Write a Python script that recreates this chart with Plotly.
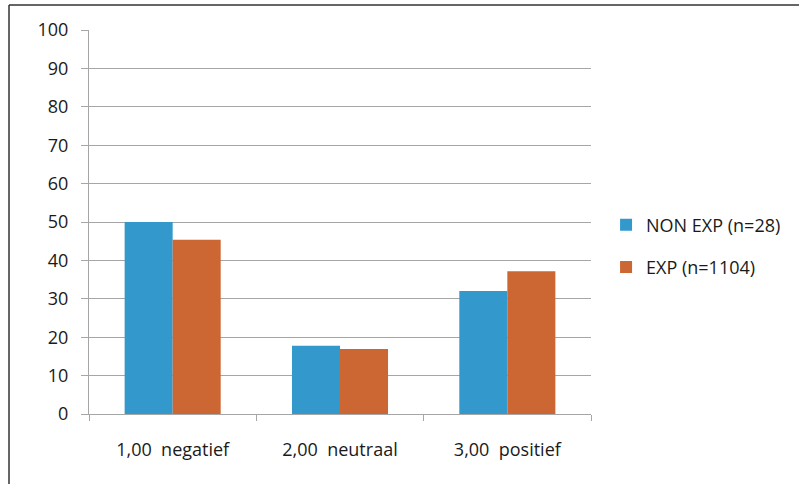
import plotly.graph_objects as go

# Category labels and series values (percentages)
categories = ["1,00\u00a0 negatief", "2,00\u00a0 neutraal", "3,00\u00a0 positief"]
non_exp = [50.0, 17.8, 32.0]
exp = [45.4, 16.9, 37.2]
series_names = ["NON EXP (n=28)", "EXP (n=1104)"]
y_ticks = list(range(0, 101, 10))

BLUE = "#3399CC"
ORANGE = "#CC6633"
GRID = "#A6A6A6"
FONT = "Open Sans, Noto Sans, sans-serif"

W, H = 799, 484
ML, MR, MT, MB = 89, 208, 30, 70

fig = go.Figure()
fig.add_trace(go.Bar(x=categories, y=non_exp, name=series_names[0],
                     marker=dict(color=BLUE, line=dict(width=0)),
                     legendgroup="a"))
fig.add_trace(go.Bar(x=categories, y=exp, name=series_names[1],
                     marker=dict(color=ORANGE, line=dict(width=0)),
                     legendgroup="b"))

# outer chart frame (left and top edges visible)
pw = W - ML - MR
ph = H - MT - MB
fx0 = (9 - ML) / pw
fy1 = 1 + (MT - 5) / ph
fig.add_shape(type="line", xref="paper", yref="paper",
              x0=fx0, x1=fx0, y0=fy1, y1=-(MB + 20) / ph,
              line=dict(color="#333333", width=1.5))
fig.add_shape(type="line", xref="paper", yref="paper",
              x0=fx0, x1=(W - ML + 20) / pw, y0=fy1, y1=fy1,
              line=dict(color="#333333", width=1.5))

fig.update_layout(
    width=W, height=H,
    margin=dict(l=ML, r=MR, t=MT, b=MB, autoexpand=False),
    paper_bgcolor="white", plot_bgcolor="white",
    barmode="group", bargap=0.426, bargroupgap=0,
    font=dict(family=FONT, size=18, color="#1A1A1A"),
    showlegend=True,
    legend=dict(x=1.03, xanchor="left", y=0.4375, yanchor="middle",
                traceorder="grouped", tracegroupgap=16,
                font=dict(size=18), bgcolor="rgba(0,0,0,0)"),
    xaxis=dict(type="category", showline=True, linecolor=GRID, linewidth=1,
               ticks="outside", tickson="boundaries", ticklen=6,
               tickcolor=GRID, showgrid=False, ticklabelstandoff=19),
    yaxis=dict(range=[0, 100], tickvals=y_ticks, showline=True,
               linecolor=GRID, linewidth=1, ticks="outside", ticklen=7,
               tickcolor=GRID, showgrid=True, gridcolor=GRID, gridwidth=1,
               zeroline=False, ticklabelstandoff=9),
)

fig.write_html("out.html")
